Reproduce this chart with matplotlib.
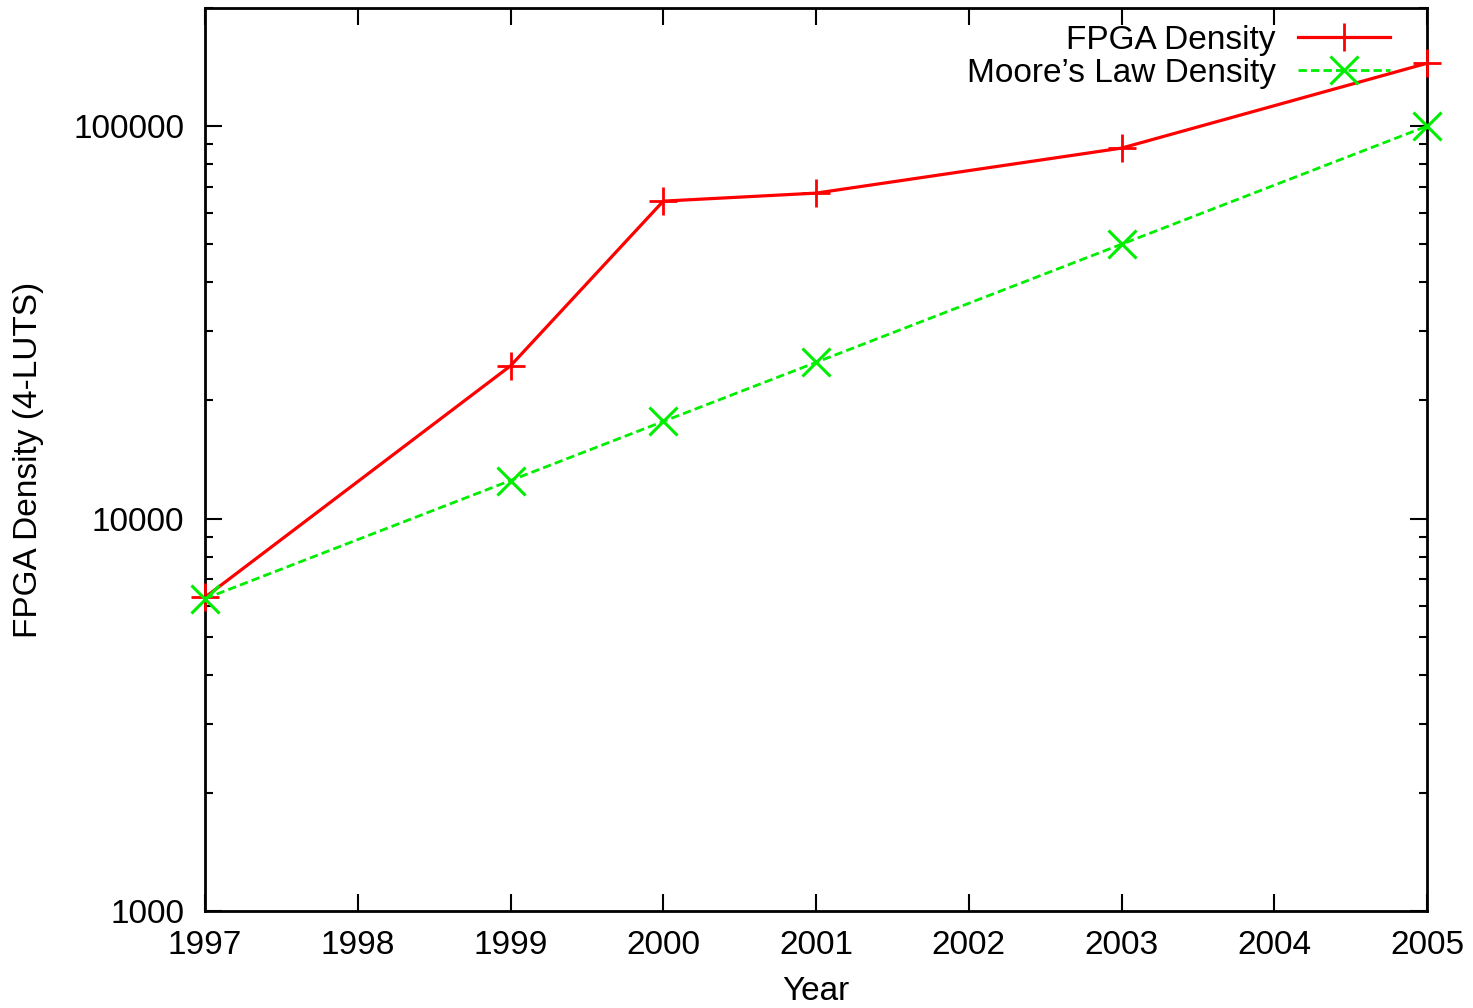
import matplotlib
matplotlib.use("Agg")
import matplotlib.pyplot as plt
from matplotlib.ticker import FixedLocator, LogLocator, NullFormatter

plt.rcParams['font.family'] = ['Liberation Sans', 'DejaVu Sans']

years = [1997, 1999, 2000, 2001, 2003, 2005]
fpga_density = [6300, 24500, 64400, 67500, 87900, 144600]
moore_density = [6250, 12500, 17680, 25000, 50000, 100000]
year_ticks = [1997, 1998, 1999, 2000, 2001, 2002, 2003, 2004, 2005]
y_ticks = [1000, 10000, 100000]

FS = 24
W, H = 1473, 1008
fig = plt.figure(figsize=(W / 100, H / 100), dpi=100)
ax = fig.add_axes([205 / W, 1 - 911 / H, (1427 - 205) / W, (911 - 8) / H])

ax.plot(years, fpga_density, color='#ff0000', lw=2.3, marker='+', ms=20,
        mew=2.0, label='FPGA Density', clip_on=False, zorder=3)
ax.plot(years, moore_density, color='#00ee00', lw=2.0, ls=(0, (3, 1.5)),
        marker='x', ms=20, mew=2.2, label="Moore\u2019s Law Density",
        clip_on=False, zorder=3)

ax.set_yscale('log')
ax.set_xlim(1997, 2005)
ax.set_ylim(1000, 200000)
ax.set_xticks(year_ticks)
ax.set_xticklabels([str(y) for y in year_ticks])
ax.yaxis.set_major_locator(FixedLocator(y_ticks))
ax.set_yticklabels([str(v) for v in y_ticks])
ax.yaxis.set_minor_locator(LogLocator(base=10, subs=range(2, 10)))
ax.yaxis.set_minor_formatter(NullFormatter())

ax.tick_params(axis='both', which='major', direction='in', length=12, width=1.5,
               top=True, right=True, labelsize=FS, colors='black')
ax.tick_params(axis='x', which='major', pad=14)
ax.tick_params(axis='y', which='major', pad=15)
ax.tick_params(axis='y', which='minor', direction='in', length=6, width=1.5,
               right=True, left=True)
for s in ax.spines.values():
    s.set_linewidth(2)

ax.set_xlabel('Year', fontsize=FS)
ax.set_ylabel('FPGA Density (4-LUTS)', fontsize=FS)
ax.xaxis.set_label_coords(0.5, -0.072)
ax.yaxis.set_label_coords(-0.132, 0.5)

leg = ax.legend(loc='upper right', frameon=False, markerfirst=False, fontsize=FS,
                handlelength=2.76, handletextpad=0.66, labelspacing=0.06,
                borderpad=0, borderaxespad=0,
                bbox_to_anchor=(1390 / W, 1 - 25 / H),
                bbox_transform=fig.transFigure)

fig.savefig('out.png', dpi=100)
